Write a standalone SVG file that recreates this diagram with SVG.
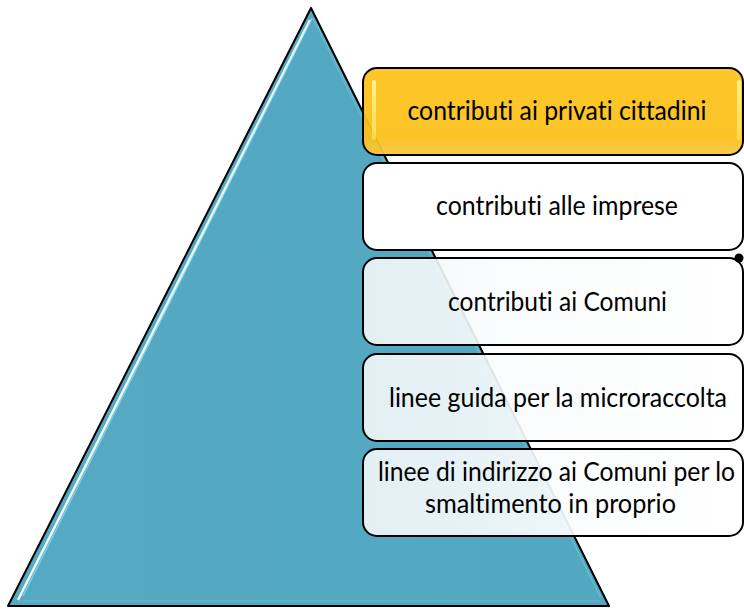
<svg xmlns="http://www.w3.org/2000/svg" width="744" height="609" viewBox="0 0 744 609">
<defs>
<linearGradient id="tri" x1="0" y1="0" x2="1" y2="0">
<stop offset="0" stop-color="#55A9C3"/>
<stop offset="1" stop-color="#52A7C1"/>
</linearGradient>
<linearGradient id="gold" x1="0" y1="0" x2="0" y2="1">
<stop offset="0" stop-color="#FCC31E"/>
<stop offset="0.8" stop-color="#FBC11B"/>
<stop offset="1" stop-color="#F8C744"/>
</linearGradient>
<linearGradient id="pale" x1="0" y1="0" x2="1" y2="0">
<stop offset="0" stop-color="#F2F7F9" stop-opacity="0.9"/>
<stop offset="0.3" stop-color="#F8FBFC" stop-opacity="0.9"/>
<stop offset="1" stop-color="#FFFFFF" stop-opacity="0.96"/>
</linearGradient>
<linearGradient id="hl" x1="0" y1="0" x2="0" y2="1">
<stop offset="0" stop-color="#FFF59A" stop-opacity="0.9"/>
<stop offset="1" stop-color="#FFF27A" stop-opacity="0.5"/>
</linearGradient>
</defs>
<style>
.box{stroke:#000;stroke-width:2}
.t{font-family:Lato,"Liberation Sans",Arial,sans-serif;font-size:26.5px;fill:#000;text-anchor:middle;font-variant-ligatures:none;font-feature-settings:"liga" 0,"clig" 0}
</style>
<rect width="744" height="609" fill="#fff"/>
<g id="pyramid">
<polygon points="311,8 609,606 8,606" fill="url(#tri)" stroke="#000" stroke-width="2" stroke-linejoin="round"/>
<line x1="310" y1="20" x2="18" y2="600" stroke="#FFFFFF" stroke-width="2.5" stroke-opacity="0.9"/>
<line x1="312" y1="18" x2="23" y2="596" stroke="#9FE3F2" stroke-width="1.5" stroke-opacity="0.6"/>
<line x1="313" y1="18" x2="601" y2="598" stroke="#7CC2D6" stroke-width="2" stroke-opacity="0.5"/>
<line x1="18" y1="601" x2="600" y2="601" stroke="#6FB8CD" stroke-width="2" stroke-opacity="0.5"/>
</g>
<g id="node1">
<rect class="box" x="363" y="68" width="380" height="87" rx="14" fill="url(#gold)" fill-opacity="0.95"/>
<rect x="372" y="80" width="4" height="60" rx="2" fill="url(#hl)"/>
<rect x="737" y="80" width="4" height="60" rx="2" fill="url(#hl)"/>
<text class="t" x="557" y="120" textLength="299" lengthAdjust="spacingAndGlyphs">contributi ai privati cittadini</text>
</g>
<g id="node2">
<rect class="box" x="363" y="163" width="380" height="87" rx="14" fill="#FFFFFF"/>
<text class="t" x="557" y="215" textLength="242" lengthAdjust="spacingAndGlyphs">contributi alle imprese</text>
</g>
<g id="node3">
<rect class="box" x="363" y="258" width="380" height="87" rx="14" fill="url(#pale)"/>
<text class="t" x="557.5" y="311" textLength="219" lengthAdjust="spacingAndGlyphs">contributi ai Comuni</text>
</g>
<g id="node4">
<rect class="box" x="363" y="354" width="380" height="87" rx="14" fill="url(#pale)"/>
<text class="t" x="558" y="407" textLength="338" lengthAdjust="spacingAndGlyphs">linee guida per la microraccolta</text>
</g>
<g id="node5">
<rect class="box" x="363" y="449" width="380" height="87" rx="14" fill="url(#pale)"/>
<text class="t" x="556.5" y="481" textLength="357" lengthAdjust="spacingAndGlyphs">linee di indirizzo ai Comuni per lo</text>
<text class="t" x="550.5" y="513" textLength="251" lengthAdjust="spacingAndGlyphs">smaltimento in proprio</text>
</g>
<circle cx="739" cy="258" r="4.5" fill="#000"/>
</svg>
